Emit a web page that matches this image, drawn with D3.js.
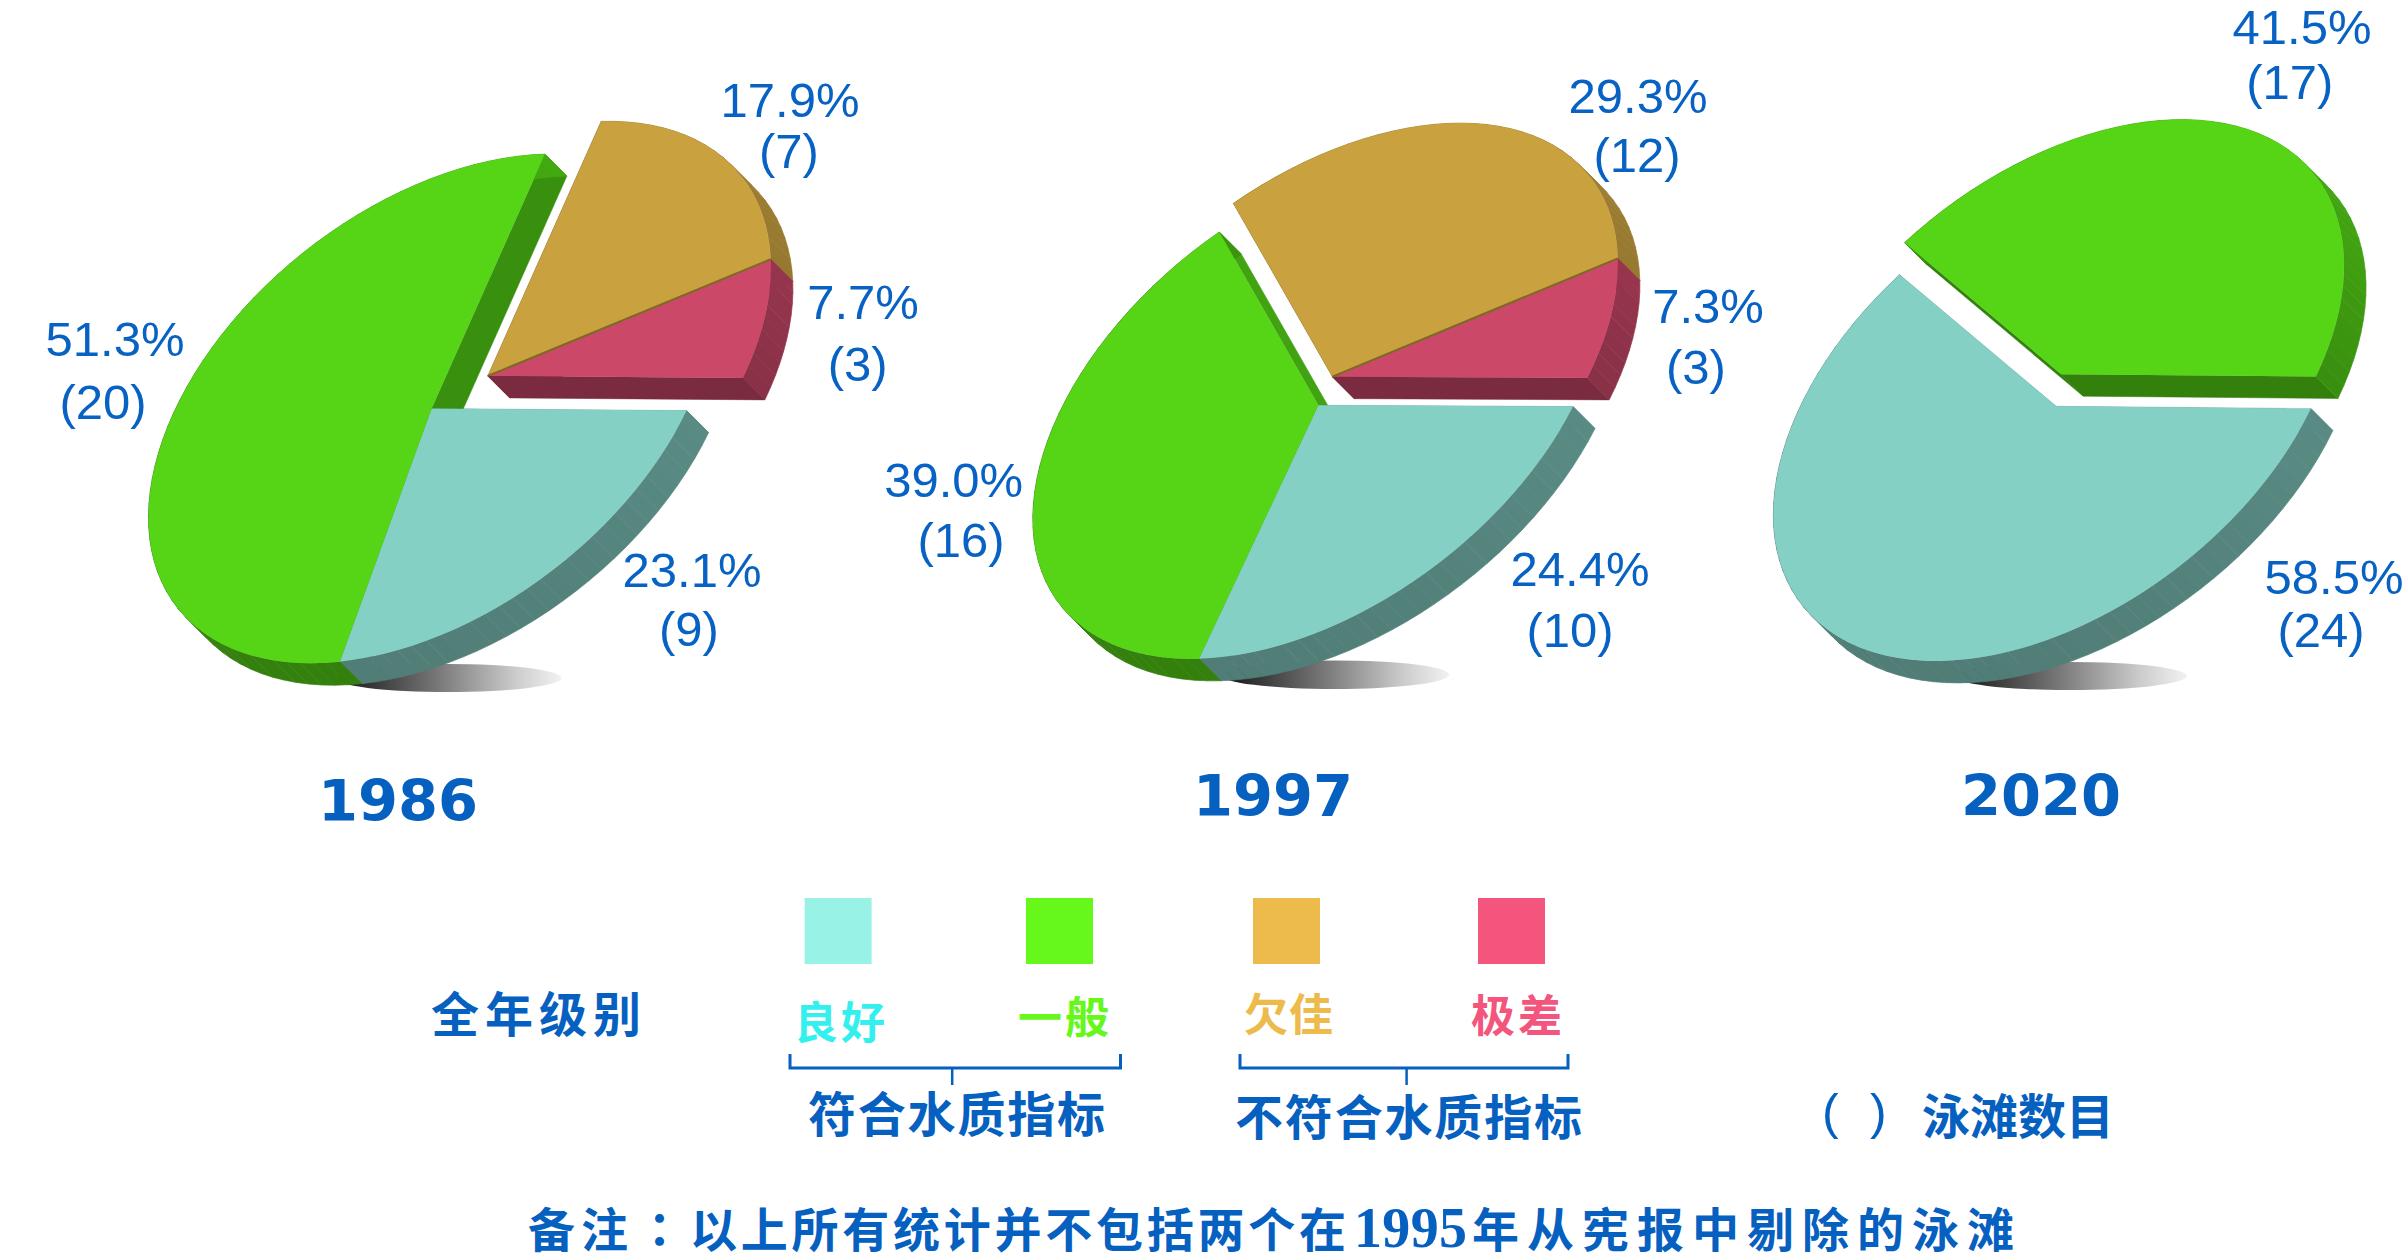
<!DOCTYPE html>
<html><head><meta charset="utf-8">
<script src="https://cdn.jsdelivr.net/npm/d3@7"></script>
<style>html,body{margin:0;padding:0;background:#fff}svg{display:block}</style>
</head><body><svg id="c" width="2407" height="1260" viewBox="0 0 2407 1260"></svg>
<script>
// ---- data ----
const years = ["1986", "1997", "2020"];
const levels = ["良好", "一般", "欠佳", "极差"];
const levelColors = ["#85d0c5", "#55d516", "#c9a13f", "#cc4869"];
const swatchColors = ["#99f2e6", "#66f71b", "#edbb4b", "#f3557c"];
const textColors = ["#33f0ee", "#66f71b", "#edbb4b", "#f3557c"];
// slice sizes as drawn in the picture
const shares1986 = [23.1, 51.3, 17.9, 7.7];
const shares1997 = [24.4, 37.5, 30.3, 7.8];
const shares2020 = [58.5, 41.5];
// printed labels
const labels1986 = ["23.1%", "(9)", "51.3%", "(20)", "17.9%", "(7)", "7.7%", "(3)"];
const labels1997 = ["24.4%", "(10)", "39.0%", "(16)", "29.3%", "(12)", "7.3%", "(3)"];
const labels2020 = ["58.5%", "(24)", "41.5%", "(17)"];

// ---- layout ----
const BLUE = "#0862c4", NAVY = "#0660c0";
const charts = [
  {year: years[0], shares: shares1986, labels: labels1986, title: [398, 821],
   c: [431.6, 408.6], u: [255, 2], v: [-123, 254.6], explode: [null, null, [56.2, -32.7], [56.2, -32.7]],
   shadow: [448, 678, 113.5, 14],
   pos: [[692,586.5],[689,645.5],[115,356],[103,419.3],[790,117],[789,168.3],[863,319],[857.6,380.5]]},
  {year: years[1], shares: shares1997, labels: labels1997, title: [1273, 816],
   c: [1318.3, 405.3], u: [254.7, 1.2], v: [-129, 253.6], explode: [null, null, [14.1, -28.6], [14.1, -28.6]],
   shadow: [1334.7, 674.7, 114.5, 14.3],
   pos: [[1580,586],[1570,646.5],[953.7,496.8],[961,557.2],[1638,113],[1637,171.6],[1708,323],[1696,383.5]]},
  {year: years[2], shares: shares2020, labels: labels2020, title: [2041, 816],
   c: [2056.2, 406.3], u: [254.7, 2.3], v: [-123, 254.6], explode: [null, [5, -32.1]],
   shadow: [2070, 676, 117, 14],
   pos: [[2334,593.7],[2321,646.5],[2302,43.6],[2289.7,99]]}
];
const depth = [22, 22];
const R = 100;
const svg = d3.select("#c");
const defs = svg.append("defs");
const pie = d3.pie().sort(null).value(d => d).startAngle(Math.PI / 2).endAngle(Math.PI * 2.5);
const arc = d3.arc().innerRadius(0).outerRadius(R);
const shade = d3.scaleLinear().domain([-180, -90, -60, -30, 0, 45, 90, 180]).range([.6, .8, .78, .75, .67, .62, .6, .6]);
const mix = (col, k) => { const c = d3.rgb(col); return d3.rgb(c.r * k, c.g * k, c.b * k).formatHex(); };
const norm = deg => ((deg + 180) % 360 + 360) % 360 - 180;
const line = d3.line();

charts.forEach((ch, ci) => {
  const g = svg.append("g");
  const id = "sh" + ci;
  const lg = defs.append("linearGradient").attr("id", id);
  [[0, "#111"], [.45, "#777"], [.8, "#ccc"], [1, "#f2f2f2"]].forEach(s => lg.append("stop").attr("offset", s[0]).attr("stop-color", s[1]));
  g.append("ellipse").attr("cx", ch.shadow[0]).attr("cy", ch.shadow[1]).attr("rx", ch.shadow[2]).attr("ry", ch.shadow[3]).attr("fill", `url(#${id})`);

  const arcs = pie(ch.shares);
  const project = (t, off) => [
    ch.c[0] + (off ? off[0] : 0) + ch.u[0] * Math.cos(t) + ch.v[0] * Math.sin(t),
    ch.c[1] + (off ? off[1] : 0) + ch.u[1] * Math.cos(t) + ch.v[1] * Math.sin(t)];
  const centerOf = off => [ch.c[0] + (off ? off[0] : 0), ch.c[1] + (off ? off[1] : 0)];
  const shift = p => [p[0] + depth[0], p[1] + depth[1]];

  // radial faces
  arcs.forEach((a, i) => {
    const off = ch.explode[i], col = levelColors[i];
    const t0 = a.startAngle - Math.PI / 2, t1 = a.endAngle - Math.PI / 2;
    [[t0, -90], [t1, 90]].forEach(([t, dn]) => {
      const p = project(t, off), o = centerOf(off);
      const f = mix(col, shade(norm(t * 180 / Math.PI + dn)));
      g.append("path").attr("d", line([o, p, shift(p), shift(o)]) + "Z").attr("fill", f).attr("stroke", f).attr("stroke-width", .5);
    });
  });
  // outer walls as facets
  arcs.forEach((a, i) => {
    const off = ch.explode[i], col = levelColors[i];
    const t0 = a.startAngle - Math.PI / 2, t1 = a.endAngle - Math.PI / 2;
    const n = Math.max(2, Math.ceil((t1 - t0) / (Math.PI / 60)));
    d3.range(n).forEach(k => {
      const ta = t0 + (t1 - t0) * k / n, tb = t0 + (t1 - t0) * (k + 1) / n;
      const pa = project(ta, off), pb = project(tb, off);
      const f = mix(col, shade(norm((ta + tb) * 90 / Math.PI)));
      g.append("path").attr("d", line([pa, pb, shift(pb), shift(pa)]) + "Z").attr("fill", f).attr("stroke", f).attr("stroke-width", .7);
    });
  });
  // top faces
  arcs.forEach((a, i) => {
    const cc = centerOf(ch.explode[i]);
    g.append("path").attr("d", arc(a))
      .attr("transform", `matrix(${ch.u[0] / R},${ch.u[1] / R},${ch.v[0] / R},${ch.v[1] / R},${cc[0]},${cc[1]})`)
      .attr("fill", levelColors[i]);
  });
  // olive seam between the orange and red slices
  if (arcs.length > 2) {
    const off = ch.explode[3];
    g.append("path").attr("d", line([centerOf(off), project(arcs[3].startAngle - Math.PI / 2, off)]))
      .attr("stroke", "#7a6a22").attr("stroke-width", 2).attr("fill", "none");
  }
  // labels
  ch.labels.forEach((t, i) => {
    g.append("text").attr("x", ch.pos[i][0]).attr("y", ch.pos[i][1]).attr("text-anchor", "middle")
      .attr("font-family", "'Liberation Sans',Arial,sans-serif").attr("font-size", 49).attr("fill", BLUE).text(t);
  });
  g.append("text").attr("x", ch.title[0]).attr("y", ch.title[1]).attr("text-anchor", "middle")
    .attr("font-family", "'DejaVu Sans',sans-serif").attr("font-weight", 700).attr("font-size", 57.5).attr("fill", NAVY).text(ch.year);
});

// ---- legend ----
const CJK = "'Liberation Serif','Noto Sans CJK SC',sans-serif";
function fit(txt, x0, x1, base, size, fill) {
  svg.append("text").attr("x", x0).attr("y", base).attr("font-family", CJK).attr("font-weight", 700)
    .attr("font-size", size).attr("fill", fill).attr("textLength", x1 - x0).attr("lengthAdjust", "spacing").text(txt);
}
const swatchX = [804.6, 1026, 1253, 1478];
const labelBox = [[794, 885, 1039], [1018, 1109, 1034], [1244, 1333, 1031], [1471, 1562, 1032]];
levels.forEach((l, i) => {
  svg.append("rect").attr("x", swatchX[i]).attr("y", 898).attr("width", 67).attr("height", 66).attr("fill", swatchColors[i]);
  fit(l, labelBox[i][0], labelBox[i][1], labelBox[i][2], 44, textColors[i]);
});
fit("全年级别", 431, 641, 1032, 48, NAVY);
fit("符合水质指标", 808, 1105, 1132, 48, NAVY);
fit("不符合水质指标", 1235, 1582, 1135, 48, NAVY);
// bracket-and-name key for the beach counts
[["(", 1822], [")", 1870]].forEach(([t, x]) => {
  svg.append("text").attr("x", x).attr("y", 1129).attr("font-family", "'Liberation Sans',sans-serif").attr("font-size", 50).attr("fill", NAVY).text(t);
});
fit("泳滩数目", 1922, 2114, 1134, 48, NAVY);
// footnote
const noteBase = 1247;
fit("备注", 528, 628, noteBase, 47, NAVY);
svg.append("text").attr("x", 659.5).attr("y", noteBase).attr("text-anchor", "middle").attr("font-family", "'Noto Sans CJK TC',sans-serif")
  .attr("font-weight", 700).attr("font-size", 47).attr("fill", NAVY).text("：");
fit("以上所有统计并不包括两个在", 690, 1346, noteBase, 47, NAVY);
fit("1995", 1354, 1467, noteBase, 56, NAVY);
fit("年从宪报中剔除的泳滩", 1472, 2014, noteBase, 47, NAVY);
[[790, 1120.5, 952.2], [1240, 1568, 1406.6]].forEach(([a, b, s]) => {
  svg.append("path").attr("d", line([[a, 1054], [a, 1068], [b, 1068], [b, 1054]])).attr("fill", "none").attr("stroke", NAVY).attr("stroke-width", 3);
  svg.append("path").attr("d", line([[s, 1068], [s, 1085]])).attr("fill", "none").attr("stroke", NAVY).attr("stroke-width", 2.5);
});
</script></body></html>
